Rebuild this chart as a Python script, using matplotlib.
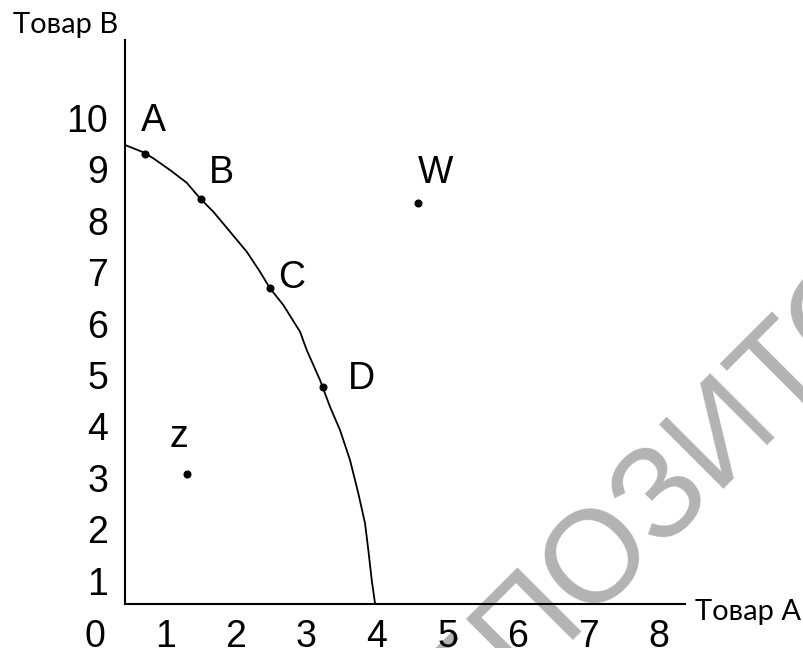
import matplotlib
matplotlib.use("Agg")
import matplotlib.pyplot as plt

# ---- data ----
x_ticks = [0, 1, 2, 3, 4, 5, 6, 7, 8]
y_ticks = [1, 2, 3, 4, 5, 6, 7, 8, 9, 10]

# production possibility frontier
ppf_x = [0.426, 0.685, 0.827, 1.064, 1.301, 1.489, 1.678, 1.915, 2.152, 2.340, 2.482,
         2.671, 2.908, 3.003, 3.191, 3.333, 3.475, 3.617, 3.735, 3.830, 3.877, 3.925, 3.972]
ppf_y = [9.475, 9.333, 9.216, 8.988, 8.740, 8.438, 8.177, 7.788, 7.399, 7.010, 6.687,
         6.362, 5.842, 5.486, 4.903, 4.383, 3.930, 3.346, 2.698, 2.115, 1.595, 1.012, 0.558]

point_names = ["A", "B", "C", "D", "W", "z"]
point_x = [0.71, 1.50, 2.48, 3.23, 4.58, 1.30]
point_y = [9.30, 8.43, 6.70, 4.77, 8.35, 3.07]

x_title = "Товар А"
y_title = "Товар В"
watermark = "РЕПОЗИТОРИЙ"

# ---- figure ----
W, H = 804, 648
fig = plt.figure(figsize=(W / 100, H / 100), dpi=100)
ax = fig.add_axes([0, 0, 1, 1])
ax.set_zorder(1)

# pixel mapping: x_px = 95 + 70.5*x ; y_px(from top) = 632 - 51.4*y
x0, sx = 95.0, 70.5
y0, sy = 632.0, 51.4
ax.set_xlim(-x0 / sx, (W - x0) / sx)
ax.set_ylim((y0 - H) / sy, y0 / sy)
ax.patch.set_alpha(0)

num_font = "Liberation Sans"
lbl_font = "Lato"

# watermark (drawn beneath the chart)
fig.text(397 / W, 1 - 805 / H, watermark, rotation=45, rotation_mode="anchor",
         ha="left", va="baseline", fontsize=94, color="#b3b3b3",
         family=num_font, zorder=-1)

# axes lines
left_pos = (125 - x0) / sx
bottom_pos = (y0 - 604) / sy
ax.spines["top"].set_visible(False)
ax.spines["right"].set_visible(False)
ax.spines["left"].set_position(("data", left_pos))
ax.spines["bottom"].set_position(("data", bottom_pos))
ax.spines["left"].set_bounds(bottom_pos, (y0 - 40) / sy)
ax.spines["bottom"].set_bounds(left_pos, (685 - x0) / sx)
for s in ("left", "bottom"):
    ax.spines[s].set_linewidth(1.5)
    ax.spines[s].set_color("black")
    ax.spines[s].set_zorder(3)

ax.set_xticks(x_ticks)
ax.set_xticklabels([str(v) for v in x_ticks])
ax.set_yticks(y_ticks)
ax.set_yticklabels([str(v) for v in y_ticks])
ax.tick_params(axis="both", length=0, labelsize=27, colors="black")
ax.tick_params(axis="x", pad=11)
ax.tick_params(axis="y", pad=12)
for t in ax.get_xticklabels() + ax.get_yticklabels():
    t.set_family(num_font)

# axis titles
ax.set_xlabel(x_title, fontsize=21, family=lbl_font, ha="left", va="baseline")
ax.xaxis.set_label_coords(695 / W, 1 - 620 / H)
ax.set_ylabel(y_title, fontsize=21, family=lbl_font, rotation=0, ha="left", va="baseline")
ax.yaxis.set_label_coords(13 / W, 1 - 33 / H)

# frontier curve
ax.plot(ppf_x, ppf_y, color="black", lw=1.3, zorder=4)

# points
ax.plot(point_x, point_y, "o", color="black", ms=4.8, zorder=5)

# point labels (offsets in points)
offsets = {"A": (5.8, 16.6), "B": (15.0, 11.5), "C": (15.8, 0.0),
           "D": (28.1, -1.4), "W": (12.6, 14.4), "z": (-5.8, 19.4)}
for name, px, py in zip(point_names, point_x, point_y):
    ax.annotate(name, (px, py), xytext=offsets[name], textcoords="offset points",
                ha="center", va="baseline", fontsize=27, family=num_font,
                color="black", zorder=6)

fig.savefig("out.png", dpi=100)
